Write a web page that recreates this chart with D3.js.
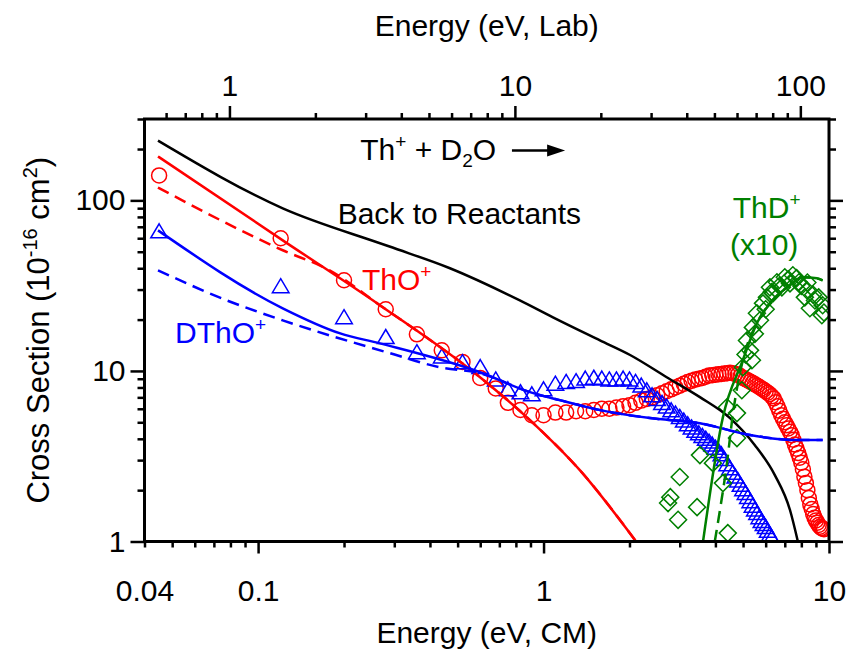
<!DOCTYPE html>
<html>
<head>
<meta charset="utf-8">
<script src="https://cdn.jsdelivr.net/npm/d3@7"></script>
<style>
  body { margin: 0; background: #fff; }
  text { font-family: "Liberation Sans", Arial, sans-serif; }
</style>
</head>
<body>
<svg id="chart"></svg>
<script>
// energy grid (eV, CM) shared by the ThO+ and DThO+ data
var energyGrid = [0.045, 0.12, 0.20, 0.28, 0.36, 0.44, 0.52, 0.60, 0.68, 0.75, 0.83, 0.91, 1.0,
  1.1, 1.2, 1.3, 1.4, 1.5, 1.6, 1.7, 1.8, 1.9, 2.0,
  2.1, 2.2, 2.3, 2.4, 2.5, 2.6, 2.7, 2.8, 2.9, 3.0,
  3.1, 3.2, 3.3, 3.4, 3.5, 3.6, 3.7, 3.8, 3.9, 4.0,
  4.1, 4.2, 4.3, 4.4, 4.5, 4.6, 4.7, 4.8, 4.9, 5.0,
  5.1, 5.2, 5.3, 5.4, 5.5, 5.6, 5.7, 5.8, 5.9, 6.0,
  6.1, 6.2, 6.3, 6.4, 6.5, 6.6, 6.7, 6.8, 6.9, 7.0,
  7.1, 7.2, 7.3, 7.4, 7.5, 7.6, 7.7, 7.8, 7.9, 8.0,
  8.1, 8.2, 8.3, 8.4, 8.5, 8.6, 8.7, 8.8, 8.9, 9.0,
  9.1, 9.2, 9.3, 9.4, 9.5, 9.6];

// ThO+ cross sections (circles)
var thoSigma = [140, 60, 34, 23, 16.4, 13.2, 11.3, 9.1, 7.9, 6.5, 5.9, 5.5, 5.5,
  5.7, 5.7, 5.8, 5.8, 5.9, 6.0, 6.0, 6.1, 6.2, 6.3,
  6.5, 6.7, 6.85, 7.0, 7.2, 7.4, 7.6, 7.8, 8.0, 8.2,
  8.4, 8.6, 8.75, 8.9, 9.0, 9.1, 9.25, 9.4, 9.45, 9.5,
  9.55, 9.6, 9.65, 9.7, 9.75, 9.7, 9.6, 9.5, 9.3, 9.1,
  8.95, 8.8, 8.65, 8.5, 8.35, 8.2, 8.05, 7.9, 7.75, 7.6,
  7.45, 7.3, 7.1, 6.9, 6.55, 6.2, 5.85, 5.5, 5.25, 5.0,
  4.8, 4.6, 4.4, 4.2, 3.95, 3.7, 3.5, 3.3, 3.1, 2.9,
  2.65, 2.4, 2.2, 2.0, 1.8, 1.65, 1.55, 1.45, 1.38, 1.33,
  1.29, 1.25, 1.22, 1.2, 1.19, 1.18];

// DThO+ cross sections (triangles), same energies until they drop below 1
var dthoSigma = [65, 31, 20.4, 15.6, 12.7, 12.0, 11.1, 10.4, 8.8, 7.7, 7.4, 7.2, 7.7,
  8.3, 8.5, 8.6, 8.9, 9.0, 8.9, 8.8, 8.8, 8.9, 8.8,
  8.5, 8.1, 7.6, 7.1, 6.75, 6.4, 6.1, 5.8, 5.55, 5.3,
  5.05, 4.8, 4.6, 4.4, 4.25, 4.1, 3.95, 3.8, 3.65, 3.5,
  3.35, 3.2, 3.0, 2.8, 2.65, 2.5, 2.37, 2.25, 2.12, 2.0,
  1.9, 1.8, 1.7, 1.6, 1.52, 1.45, 1.37, 1.3, 1.25, 1.2,
  1.14, 1.08, 1.04];

// ThD+ (x10) diamonds
var thdEnergy = [2.73, 2.78, 2.96, 3.00, 3.45, 3.53, 3.92, 4.25, 4.42, 4.39, 4.76, 4.76, 4.95, 4.99,
  5.1, 5.16, 5.29, 5.37, 5.41, 5.5, 5.59, 5.73, 5.87, 6.0, 6.06, 6.21, 6.3, 6.36, 6.57, 6.7,
  6.84, 7.00, 7.2, 7.30, 7.47, 7.7, 7.85, 8.0, 8.23, 8.37, 8.4, 8.57, 8.8, 8.93, 9.2,
  9.44, 9.5, 9.6];
var thdSigma = [1.68, 1.82, 1.34, 2.39, 1.59, 3.21, 2.88, 2.20, 1.12, 6.13, 4.04, 5.66, 7.71, 10.5,
  12.5, 15.1, 13.2, 11.56, 18.0, 16.5, 21.8, 19.8, 24.9, 23.0, 27.0, 30.9, 29.0, 28.5, 33.1, 31.5,
  30.9, 35.4, 34.5, 32.6, 36.4, 35.0, 33.1, 31.5, 27.0, 29.7, 33.0, 23.3, 28.0, 25.9, 27.0,
  21.2, 24.3, 22.0];

// model curves
var backE = [0.0446, 0.122, 0.287, 0.47, 0.826, 1.079, 1.576, 2.01, 2.70, 3.53, 4.50, 5.50, 6.46, 7.30, 7.78];
var backS = [224, 89.8, 53.8, 40.0, 25.9, 20.6, 15.1, 12.4, 9.19, 7.02, 5.29, 3.67, 2.45, 1.53, 1.0];

var thoFitE = [0.0446, 0.122, 0.267, 0.599, 0.896, 1.34, 2.11];
var thoFitS = [181, 58.3, 24.3, 9.19, 5.15, 2.62, 1.0];
var thoAltE = [0.0446, 0.122, 0.178, 0.267, 0.599, 0.896, 1.34, 2.11];
var thoAltS = [119, 51, 38.9, 24.3, 9.19, 5.15, 2.62, 1.0];

var dthoFitE = [0.0446, 0.122, 0.194, 0.267, 0.599, 0.896, 1.14, 1.58, 2.36, 3.53, 5.29, 7.85, 9.5];
var dthoFitS = [66.7, 23.3, 16.6, 14.5, 9.83, 7.51, 6.74, 5.89, 5.29, 4.94, 4.21, 3.93, 3.93];
var dthoAltE = [0.0446, 0.0778, 0.122, 0.290, 0.434, 0.599, 0.896, 1.14, 1.58, 2.36, 3.53, 5.29, 7.85, 9.5];
var dthoAltS = [38.9, 25.9, 19.8, 12.7, 10.5, 9.7, 7.51, 6.74, 5.89, 5.29, 4.94, 4.21, 3.93, 3.93];

var thdFitE = [3.62, 4.25, 4.99, 5.59, 6.21, 7.12, 8.10, 9.07, 9.5];
var thdFitS = [1.0, 5.36, 11.56, 19.05, 24.9, 30.9, 35.4, 34.9, 34.0];
var thdAltE = [3.98, 4.15, 4.39, 4.6, 4.99, 5.59, 6.21, 7.12, 8.10, 9.07, 9.5];
var thdAltS = [1.0, 1.53, 2.88, 5.5, 11.56, 19.05, 24.9, 30.9, 35.4, 34.9, 34.0];

// tick values
var cmMajor = [0.1, 1, 10];
var cmLabels = [0.04, 0.1, 1, 10];
var cmMinor = [0.04, 0.05, 0.06, 0.07, 0.08, 0.09, 0.2, 0.3, 0.4, 0.5, 0.6, 0.7, 0.8, 0.9, 2, 3, 4, 5, 6, 7, 8, 9];
var labMajor = [1, 10, 100];
var labMinor = [0.6, 0.7, 0.8, 0.9, 2, 3, 4, 5, 6, 7, 8, 9, 20, 30, 40, 50, 60, 70, 80, 90];
var yMajor = [1, 10, 100];
var yMinor = [2, 3, 4, 5, 6, 7, 8, 9, 20, 30, 40, 50, 60, 70, 80, 90, 200, 300];

var labFactor = (232 + 20) / 20;   // Lab = CM * (m_Th + m_D2O) / m_D2O

var margin = {top: 119, right: 17, bottom: 109.5, left: 144.5},
  width = 846 - margin.left - margin.right,
  height = 651 - margin.top - margin.bottom;

var svg = d3.select("#chart")
  .attr("width", 846)
  .attr("height", 651)
  .append("g")
  .attr("transform", "translate(" + margin.left + "," + margin.top + ")");

var x = d3.scaleLog().domain([0.04, 10]).range([0, width]);
var xLab = d3.scaleLog().domain([0.04 * labFactor, 10 * labFactor]).range([0, width]);
var y = d3.scaleLog().domain([1, 300]).range([height, 0]);

var red = "#ff0000", blue = "#0000ff", green = "#008000";
var fontSize = 30, supSize = 19;

svg.append("clipPath").attr("id", "clip")
  .append("rect").attr("width", width).attr("height", height);

// axes
function styleAxis(g) {
  g.select(".domain").remove();
  g.selectAll(".tick line").attr("stroke", "#000").attr("stroke-width", 2.5);
  g.selectAll(".tick text").attr("fill", "#000").style("font-size", fontSize + "px")
    .style("font-family", "'Liberation Sans', Arial, sans-serif");
}

svg.append("g").attr("transform", "translate(0," + height + ")")
  .call(d3.axisBottom(x).tickValues(cmMinor).tickSize(6).tickFormat(""))
  .call(styleAxis);
svg.append("g").attr("transform", "translate(0," + height + ")")
  .call(d3.axisBottom(x).tickValues(cmMajor).tickSize(12).tickFormat(""))
  .call(styleAxis);
svg.append("g").attr("transform", "translate(0," + height + ")")
  .call(d3.axisBottom(x).tickValues(cmLabels).tickSize(0).tickPadding(38).tickFormat(d3.format("")))
  .call(styleAxis);

svg.append("g")
  .call(d3.axisTop(xLab).tickValues(labMinor).tickSize(6).tickFormat(""))
  .call(styleAxis);
svg.append("g")
  .call(d3.axisTop(xLab).tickValues(labMajor).tickSize(13).tickPadding(10).tickFormat(d3.format("")))
  .call(styleAxis);

svg.append("g")
  .call(d3.axisLeft(y).tickValues(yMinor).tickSize(7).tickFormat(""))
  .call(styleAxis);
svg.append("g")
  .call(d3.axisLeft(y).tickValues(yMajor).tickSize(14).tickPadding(5).tickFormat(d3.format("")))
  .call(styleAxis);
svg.append("g").attr("transform", "translate(" + width + ",0)")
  .call(d3.axisRight(y).tickValues(yMinor).tickSize(7).tickFormat(""))
  .call(styleAxis);
svg.append("g").attr("transform", "translate(" + width + ",0)")
  .call(d3.axisRight(y).tickValues(yMajor).tickSize(14).tickFormat(""))
  .call(styleAxis);

// axis titles
svg.append("text")
  .attr("x", width / 2).attr("y", -83)
  .attr("text-anchor", "middle").style("font-size", fontSize + "px")
  .text("Energy (eV, Lab)");
svg.append("text")
  .attr("x", width / 2).attr("y", height + 101)
  .attr("text-anchor", "middle").style("font-size", fontSize + "px")
  .text("Energy (eV, CM)");

var yt = svg.append("text")
  .attr("transform", "translate(-96," + (height / 2) + ") rotate(-90)")
  .attr("text-anchor", "middle").style("font-size", "31px");
yt.append("tspan").text("Cross Section (10");
yt.append("tspan").attr("dy", -12).style("font-size", "20px").text("-16");
yt.append("tspan").attr("dy", 12).text(" cm");
yt.append("tspan").attr("dy", -12).style("font-size", "20px").text("2");
yt.append("tspan").attr("dy", 12).text(")");

// lines
var plot = svg.append("g").attr("clip-path", "url(#clip)");
var line = d3.line()
  .curve(d3.curveMonotoneX)
  .x(function(d) { return x(d[0]); })
  .y(function(d) { return y(d[1]); });
function zip(a, b) { return b.map(function(v, i) { return [a[i], v]; }); }

function drawLine(E, S, color, dashed, w) {
  plot.append("path")
    .attr("d", line(zip(E, S)))
    .attr("fill", "none")
    .attr("stroke", color)
    .attr("stroke-width", w)
    .attr("stroke-dasharray", dashed ? "12,7" : null);
}

// symbols
plot.selectAll(".tho")
  .data(zip(energyGrid, thoSigma))
  .enter().append("circle")
  .attr("cx", function(d) { return x(d[0]); })
  .attr("cy", function(d) { return y(d[1]); })
  .attr("r", 7.5)
  .attr("fill", "none").attr("stroke", red).attr("stroke-width", 1.5);

plot.selectAll(".dtho")
  .data(zip(energyGrid, dthoSigma))
  .enter().append("path")
  .attr("d", "M0,-8.5L8.3,5.5L-8.3,5.5Z")
  .attr("transform", function(d) { return "translate(" + x(d[0]) + "," + y(d[1]) + ")"; })
  .attr("fill", "none").attr("stroke", blue).attr("stroke-width", 1.5);

plot.selectAll(".thd")
  .data(zip(thdEnergy, thdSigma))
  .enter().append("path")
  .attr("d", "M0,-8.5L8.5,0L0,8.5L-8.5,0Z")
  .attr("transform", function(d) { return "translate(" + x(d[0]) + "," + y(d[1]) + ")"; })
  .attr("fill", "none").attr("stroke", green).attr("stroke-width", 1.5);

drawLine(backE, backS, "#000", false, 2.5);
drawLine(thoAltE, thoAltS, red, true, 2.5);
drawLine(thoFitE, thoFitS, red, false, 2.5);
drawLine(dthoAltE, dthoAltS, blue, true, 2.5);
drawLine(dthoFitE, dthoFitS, blue, false, 2.5);
drawLine(thdAltE, thdAltS, green, true, 2.5);
drawLine(thdFitE, thdFitS, green, false, 2.5);

// frame
svg.append("rect")
  .attr("width", width).attr("height", height)
  .attr("fill", "none").attr("stroke", "#000").attr("stroke-width", 3);

// annotations
function label(E, S, color) {
  return svg.append("text")
    .attr("x", x(E)).attr("y", y(S))
    .attr("fill", color).style("font-size", fontSize + "px");
}
var t1 = label(0.228, 172, "#000");
t1.append("tspan").text("Th");
t1.append("tspan").attr("dy", -12).style("font-size", supSize + "px").text("+");
t1.append("tspan").attr("dy", 12).text(" + D");
t1.append("tspan").attr("dy", 7).style("font-size", supSize + "px").text("2");
t1.append("tspan").attr("dy", -7).text("O");

// arrow
var ay = y(196);
svg.append("path")
  .attr("d", "M" + x(0.775) + "," + ay + "L" + x(1.08) + "," + ay)
  .attr("stroke", "#000").attr("stroke-width", 2.5);
svg.append("path")
  .attr("d", "M" + x(1.19) + "," + ay + "l-18,-6l0,12Z")
  .attr("fill", "#000");

label(0.19, 72.3, "#000").text("Back to Reactants");

var t2 = label(0.231, 29.7, red);
t2.append("tspan").text("ThO");
t2.append("tspan").attr("dy", -12).style("font-size", supSize + "px").text("+");

var t3 = label(0.0512, 14.5, blue);
t3.append("tspan").text("DThO");
t3.append("tspan").attr("dy", -12).style("font-size", supSize + "px").text("+");

var t4 = label(4.6, 78.5, green);
t4.append("tspan").text("ThD");
t4.append("tspan").attr("dy", -12).style("font-size", supSize + "px").text("+");
label(4.5, 47.6, green).text("(x10)");
</script>
</body>
</html>
